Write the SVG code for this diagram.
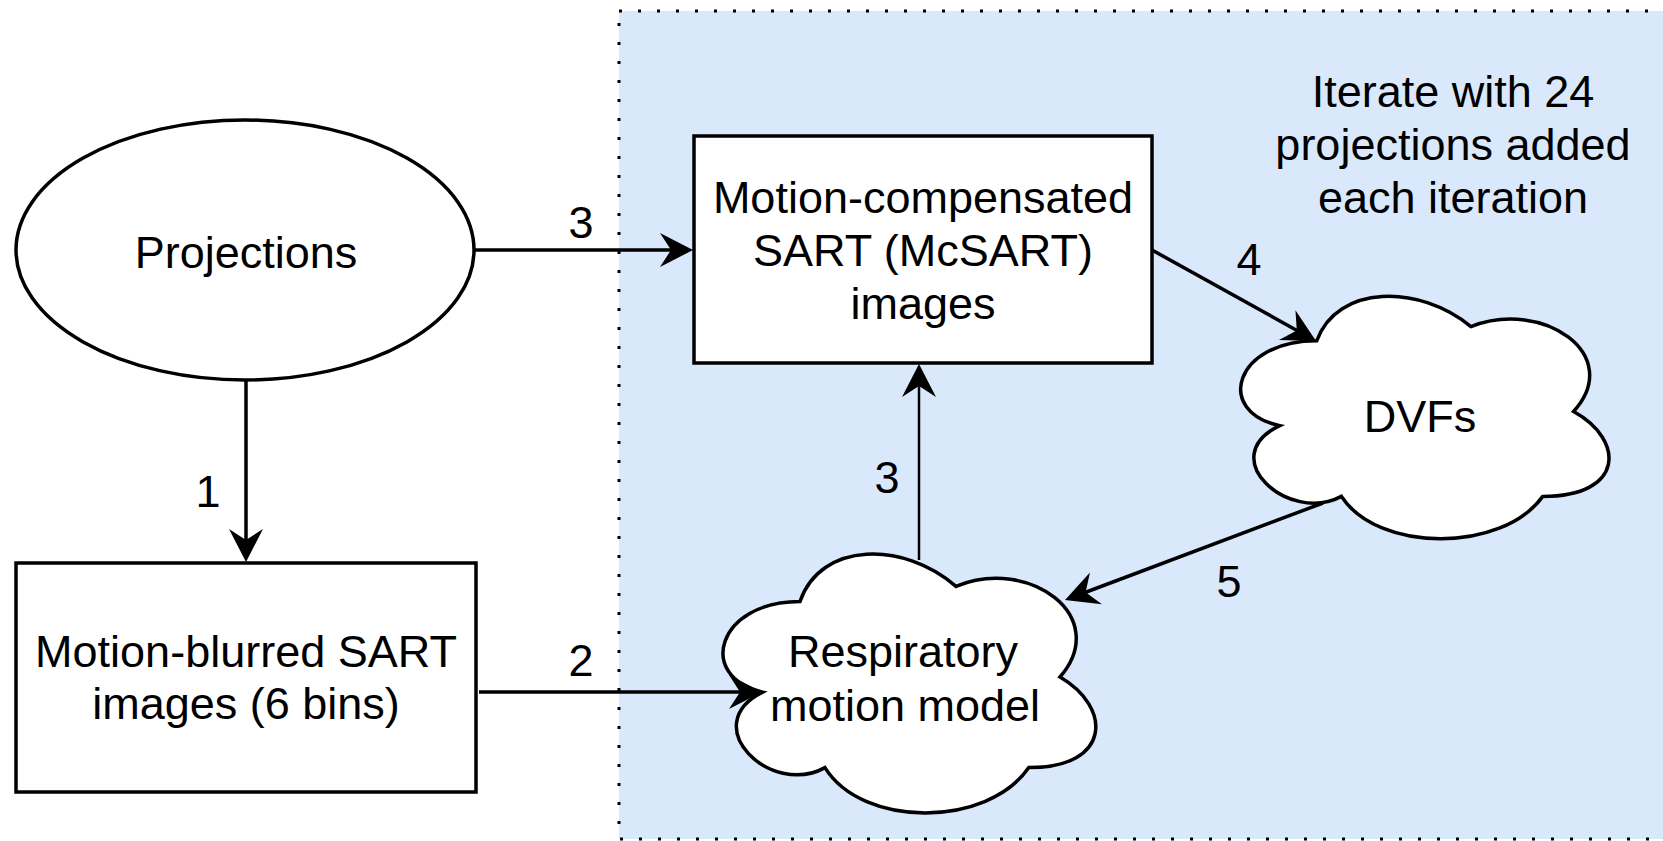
<svg xmlns="http://www.w3.org/2000/svg" width="1663" height="841" viewBox="0 0 1663 841">
  <style>
    text { font-family: "Liberation Sans", Arial, Helvetica, sans-serif; font-size: 45px; fill: #000; text-anchor: middle; }
    .node { fill: #fff; stroke: #000; stroke-width: 3.5; }
    .edge { fill: none; stroke: #000; stroke-width: 3.5; }
    .thin { stroke-width: 2.5; }
  </style>
  <defs>
    <marker id="arr" markerUnits="userSpaceOnUse" viewBox="-30 -20 50 40" markerWidth="50" markerHeight="40" refX="0" refY="0" orient="auto" overflow="visible">
      <path d="M10,0 L-23,-17 L-12,0 L-23,17 Z" fill="#000"/>
    </marker>
  </defs>
  <rect width="1663" height="841" fill="#fff"/>

  <g id="iteration-region">
    <rect x="619" y="11" width="1070" height="828" fill="#dae8fc" stroke="#000" stroke-width="3" stroke-dasharray="3 16"/>
    <text x="1453" y="107">Iterate with 24</text>
    <text x="1453" y="160">projections added</text>
    <text x="1453" y="213">each iteration</text>
  </g>

  <g id="projections">
    <ellipse class="node" cx="245" cy="250" rx="229" ry="130"/>
    <text x="246" y="268">Projections</text>
  </g>

  <g id="motion-blurred">
    <rect class="node" x="16" y="563" width="460" height="229"/>
    <text x="246" y="667">Motion-blurred SART</text>
    <text x="246" y="719">images (6 bins)</text>
  </g>

  <g id="mcsart">
    <rect class="node" x="694" y="136" width="458" height="227"/>
    <text x="923" y="213">Motion-compensated</text>
    <text x="923" y="266">SART (McSART)</text>
    <text x="923" y="319">images</text>
  </g>

  <g id="dvfs">
    <path class="node" d="M1316.75,340.75 C1234.55,340.75 1214,411.5 1279.76,425.65 C1214,456.78 1287.98,524.7 1341.41,496.4 C1378.4,553 1501.7,553 1542.8,496.4 C1625,496.4 1625,439.8 1573.6,411.5 C1625,354.9 1542.8,298.3 1470.9,326.6 C1419.5,284.15 1337.3,284.15 1316.75,340.75 Z"/>
    <text x="1420" y="432">DVFs</text>
  </g>

  <g id="respiratory">
    <path class="node" d="M800,601.5 C716.8,601.5 696,677 762.56,692.1 C696,725.32 770.88,797.8 824.96,767.6 C862.4,828 987.2,828 1028.8,767.6 C1112,767.6 1112,707.2 1060,677 C1112,616.6 1028.8,556.2 956,586.4 C904,541.1 820.8,541.1 800,601.5 Z"/>
    <text x="903" y="667">Respiratory</text>
    <text x="905" y="721">motion model</text>
  </g>

  <g id="connectors">
    <path class="edge" d="M246,381 L246,552" marker-end="url(#arr)"/>
    <text x="208" y="507">1</text>
    <path class="edge" d="M474,250 L683,250" marker-end="url(#arr)"/>
    <text x="581" y="238">3</text>
    <path class="edge" d="M479,692 L752,692" marker-end="url(#arr)"/>
    <text x="581" y="676">2</text>
    <path class="edge thin" d="M919,560 L919,374" marker-end="url(#arr)"/>
    <text x="887" y="493">3</text>
    <path class="edge" d="M1152,250 L1307.3,336.2" marker-end="url(#arr)"/>
    <text x="1249" y="275">4</text>
    <path class="edge" d="M1323,503 L1074.4,596.5" marker-end="url(#arr)"/>
    <text x="1229" y="597">5</text>
  </g>
</svg>
